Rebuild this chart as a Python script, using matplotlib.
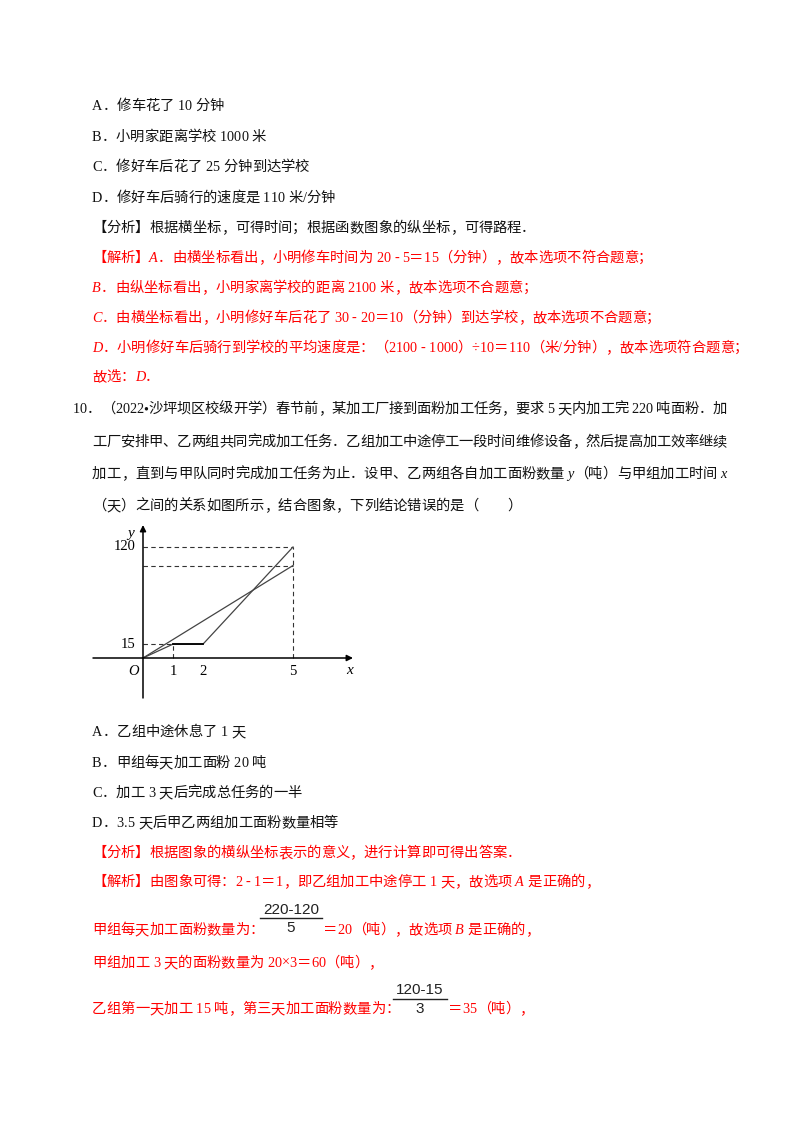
import matplotlib
matplotlib.use('Agg')
import matplotlib.pyplot as plt
from matplotlib import font_manager as fm
from matplotlib.font_manager import FontProperties
from matplotlib.ft2font import FT2Font
try:
    from matplotlib.ft2font import LoadFlags
    NO_SCALE = LoadFlags.NO_SCALE
except ImportError:
    from matplotlib.ft2font import LOAD_NO_SCALE as NO_SCALE

# question 10 graph: tons of flour vs days
days = [0, 1, 2, 5]
yi_tons = [0, 15, 15, 120]      # group 乙 (stops between day 1 and 2)
jia_days = [0, 5]
jia_tons = [0, 100]             # group 甲
x_ticks = [1, 2, 5]
y_ticks = [15, 120]

LATIN = 'Liberation Serif'
CJK = 'Noto Sans CJK SC'
BLACK = '#111111'
RED = '#ff0000'
SIZE = 10.3
PX = SIZE * 100 / 72

fig = plt.figure(figsize=(8, 11.32), dpi=100)
page = fig.add_axes([0, 0, 1, 1])
page.set_xlim(0, 800)
page.set_ylim(1132, 0)
page.axis('off')

_faces = {}


def face(family, style='normal'):
    key = (family, style)
    if key not in _faces:
        path = fm.findfont(FontProperties(family=family, style=style))
        _faces[key] = FT2Font(path)
    return _faces[key]


def pick(ch, italic):
    if italic and face(LATIN, 'italic').get_char_index(ord(ch)):
        return LATIN, 'italic'
    for fam in (LATIN, CJK):
        if face(fam).get_char_index(ord(ch)):
            return fam, 'normal'
    return 'DejaVu Sans', 'normal'


def write(x, y, parts, color=BLACK, right=None):
    # parts: plain str = upright, (str,) = italic latin
    glyphs = []
    for p in parts:
        italic = isinstance(p, tuple)
        s = p[0] if italic else p
        for ch in s:
            fam, st = pick(ch, italic)
            f = face(fam, st)
            g = f.load_char(ord(ch), flags=NO_SCALE)
            glyphs.append((ch, fam, st, g.horiAdvance / f.units_per_EM * PX))
    gap = 0
    if right is not None:
        natural = sum(g[3] for g in glyphs)
        gap = (right - x - natural) / (len(glyphs) - 1)
    base = y + 5
    for ch, fam, st, adv in glyphs:
        if ch != ' ':
            page.text(x, base, ch, family=fam, style=st, size=SIZE,
                      color=color, ha='left', va='baseline')
        x += adv + gap


L = 92

# end of question 9
write(L, 105, ['A．修车花了 10 分钟'])
write(L, 136, ['B．小明家距离学校 1000 米'])
write(L, 166, ['C．修好车后花了 25 分钟到达学校'])
write(L, 197, ['D．修好车后骑行的速度是 110 米/分钟'])
write(L, 227, ['【分析】根据横坐标，可得时间；根据函数图象的纵坐标，可得路程．'])
write(L, 257, ['【解析】', ('A',), '．由横坐标看出，小明修车时间为 20 - 5＝15（分钟），故本选项不符合题意；'], RED)
write(L, 287, [('B',), '．由纵坐标看出，小明家离学校的距离 2100 米，故本选项不合题意；'], RED)
write(L, 317, [('C',), '．由横坐标看出，小明修好车后花了 30 - 20＝10（分钟）到达学校，故本选项不合题意；'], RED)
write(L, 347, [('D',), '．小明修好车后骑行到学校的平均速度是：（2100 - 1000）÷10＝110（米/分钟），故本选项符合题意；'], RED)
write(L, 376, ['故选：', ('D',), '．'], RED)

# question 10
write(73, 408, ['10．（2022•沙坪坝区校级开学）春节前，某加工厂接到面粉加工任务，要求 5 天内加工完 220 吨面粉．加'], right=727)
write(L, 441, ['工厂安排甲、乙两组共同完成加工任务．乙组加工中途停工一段时间维修设备，然后提高加工效率继续'], right=727)
write(L, 473, ['加工，直到与甲队同时完成加工任务为止．设甲、乙两组各自加工面粉数量 ', ('y',), '（吨）与甲组加工时间 ', ('x',)], right=727)
write(L, 505, ['（天）之间的关系如图所示，结合图象，下列结论错误的是（　　）'])

# graph, origin at pixel (143, 658), 30 px per day, 0.925 px per ton
ux, uy = 30.0, 0.925
ax = fig.add_axes([93 / 800, 1 - 700 / 1132, 265 / 800, 180 / 1132])
ax.set_xlim(-50 / ux, 215 / ux)
ax.set_ylim(-42 / uy, 138 / uy)
ax.axis('off')

arrow = dict(arrowstyle='-|>', color='black', lw=1.1, mutation_scale=9, shrinkA=0, shrinkB=0)
ax.annotate('', xy=(210 / ux, 0), xytext=(-50 / ux, 0), arrowprops=arrow)
ax.annotate('', xy=(0, 133 / uy), xytext=(0, -40 / uy), arrowprops=arrow)

dash = dict(color='#333333', lw=0.8, ls=(0, (4, 3)))
for v in (yi_tons[-1], jia_tons[-1]):
    ax.plot([0, days[-1]], [v, v], **dash)
ax.plot([days[-1], days[-1]], [0, yi_tons[-1]], **dash)
ax.plot([0, days[1]], [yi_tons[1], yi_tons[1]], **dash)
ax.plot([days[1], days[1]], [0, yi_tons[1]], **dash)

ax.plot(days, yi_tons, color='#444444', lw=0.9)
ax.plot(days[1:3], yi_tons[1:3], color='black', lw=1.3)
ax.plot(jia_days, jia_tons, color='#444444', lw=0.9)

for t in x_ticks:
    ax.text(t, -15, str(t), family=LATIN, size=10.5, ha='center', va='center')
for t in y_ticks:
    ax.text(-0.25, t, str(t), family=LATIN, size=10.5, ha='right', va='center')
ax.text(-0.33, -15, 'O', family=LATIN, style='italic', size=10.5, ha='center', va='center')
ax.text(6.9, -13, 'x', family=LATIN, style='italic', size=11, ha='center', va='center')
ax.text(-0.4, 135, 'y', family=LATIN, style='italic', size=11, ha='center', va='center')

# options of question 10
write(L, 731, ['A．乙组中途休息了 1 天'])
write(L, 762, ['B．甲组每天加工面粉 20 吨'])
write(L, 792, ['C．加工 3 天后完成总任务的一半'])
write(L, 822, ['D．3.5 天后甲乙两组加工面粉数量相等'])
write(L, 852, ['【分析】根据图象的横纵坐标表示的意义，进行计算即可得出答案．'], RED)
write(L, 881, ['【解析】由图象可得：2 - 1＝1，即乙组加工中途停工 1 天，故选项 ', ('A',), ' 是正确的，'], RED)

frac = dict(family='Liberation Sans', size=11, color='#222222', ha='center', va='center')
write(L, 929, ['甲组每天加工面粉数量为：'], RED)
page.text(291, 910, '220-120', **frac)
page.plot([260, 322], [918, 918], color='#222222', lw=1)
page.text(291, 928, '5', **frac)
write(323, 929, ['＝20（吨），故选项 ', ('B',), ' 是正确的，'], RED)

write(L, 962, ['甲组加工 3 天的面粉数量为 20×3＝60（吨），'], RED)

write(L, 1008, ['乙组第一天加工 15 吨，第三天加工面粉数量为：'], RED)
page.text(420, 990, '120-15', **frac)
page.plot([393, 447], [999, 999], color='#222222', lw=1)
page.text(420, 1009, '3', **frac)
write(448, 1008, ['＝35（吨），'], RED)

fig.savefig('out.png', dpi=100)
